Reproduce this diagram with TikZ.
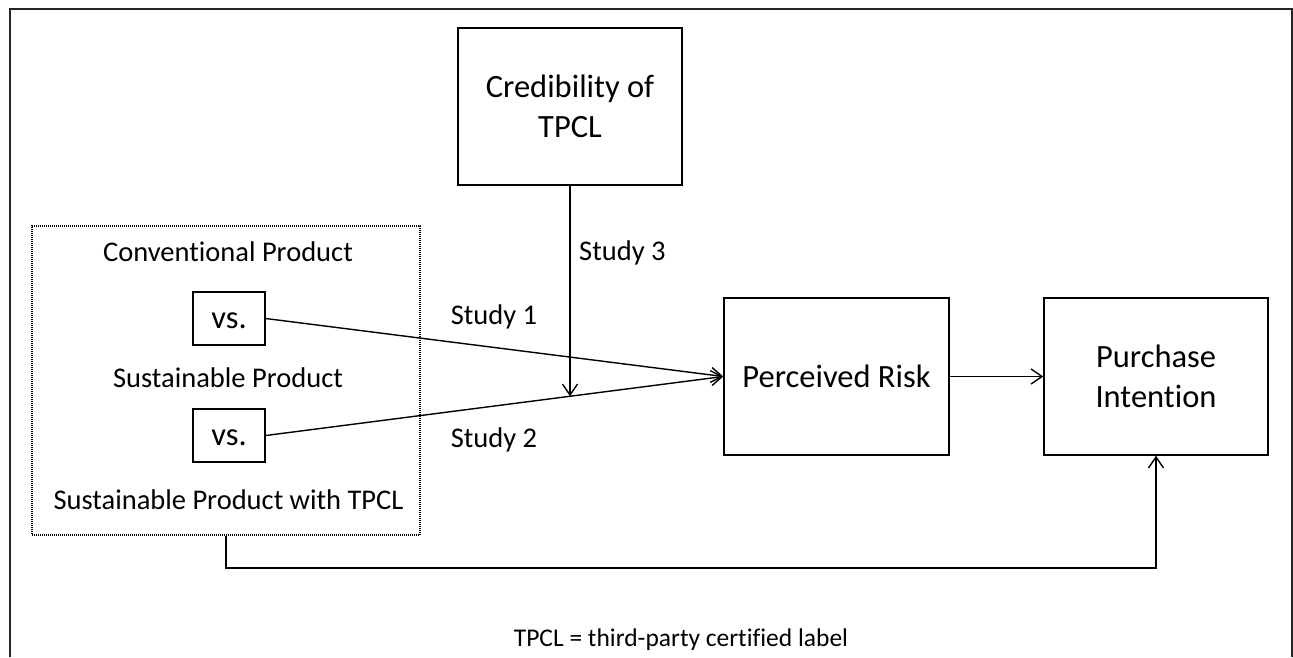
\documentclass[tikz,border=0pt]{standalone}
\usepackage{fontspec}
\setmainfont{Carlito}[Ligatures={NoCommon}]
\usetikzlibrary{arrows.meta,calc}
\begin{document}
\begin{tikzpicture}[x=1pt,y=-1pt,
  box/.style={draw, line width=1.4pt, inner sep=0pt, align=center},
  bigtxt/.style={font=\fontsize{32.5}{40}\selectfont},
  midtxt/.style={font=\fontsize{28.5}{34}\selectfont, inner sep=0pt},
  conn/.style={line width=1.4pt},
  arr/.style={conn, -{Straight Barb[length=11pt,width=15pt,line width=1.4pt]}},
  grpbox/.style={draw, line width=1.1pt, dash pattern=on 1pt off 1pt, inner sep=0pt}]
\useasboundingbox (0,0) rectangle (1293,657);
% outer frame (open at the bottom)
\draw[line width=1.8pt, black!85] (10,657) -- (10,9) -- (1292,9) -- (1292,657);
% boxes
\node[box, bigtxt, minimum width=224pt, minimum height=157pt] (cred) at (570,106.5) {Credibility of\\TPCL};
\node[box, bigtxt, minimum width=225pt, minimum height=157pt] (pr) at (836.5,376.5) {Perceived Risk};
\node[box, bigtxt, minimum width=224pt, minimum height=157pt] (pi) at (1156,376.5) {Purchase\\Intention};
\node[grpbox, minimum width=388pt, minimum height=309pt] (grp) at (226,380.5) {};
\node[box, bigtxt, minimum width=72pt, minimum height=53pt, text height=19pt, text depth=0pt] (vsa) at (229,318.5) {vs.};
\node[box, bigtxt, minimum width=72pt, minimum height=53pt, text height=19pt, text depth=0pt] (vsb) at (229,435.5) {vs.};
% texts in the group
\node[midtxt] (conv) at (228,252) {Conventional Product};
\node[midtxt] (sust) at (228,378) {Sustainable Product};
\node[midtxt] (sustt) at (228.5,500) {Sustainable Product with TPCL};
% study labels
\node[midtxt] (s1) at (494,317) {Study 1};
\node[midtxt] (s2) at (494,440) {Study 2};
\node[midtxt, anchor=west] (s3) at (579,253) {Study 3};
% footnote
\node[font=\fontsize{25.5}{30}\selectfont, inner sep=0pt] (fn) at (681,640) {TPCL = third-party certified label};
% connectors
\draw[arr] (vsa.east) -- (pr.west);
\draw[arr] (vsb.east) -- (pr.west);
\coordinate (m) at ($(vsb.east)!0.6645!(pr.west)$);
\draw[arr] (cred.south) -- (cred.south |- m);
\draw[arr] (pr.east) -- (pi.west);
\coordinate (bl) at (226,568);
\draw[arr] (grp.south) -- (bl) -| (pi.south);
\end{tikzpicture}
\end{document}
